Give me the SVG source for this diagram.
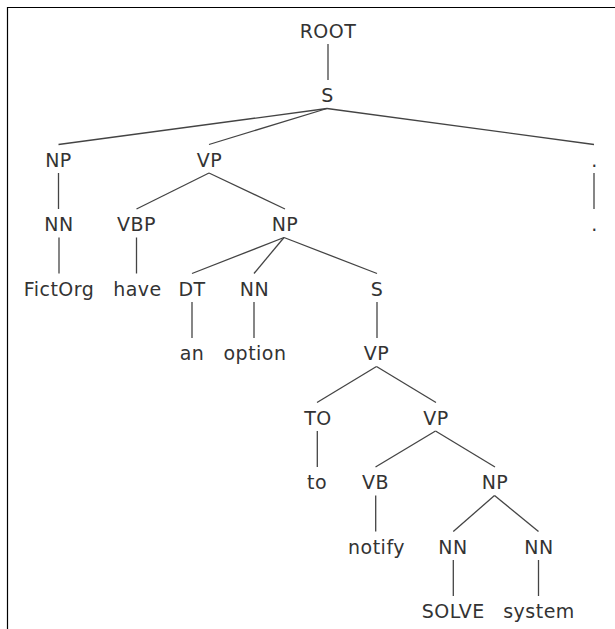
<svg xmlns="http://www.w3.org/2000/svg" width="615" height="629" viewBox="0 0 615 629">
<style>
text{font-family:"DejaVu Sans","Liberation Sans",sans-serif;font-size:19px;letter-spacing:0.5px;fill:#333;text-anchor:middle}
.e line{stroke:#444;stroke-width:1.3;stroke-linecap:butt}
</style>
<rect width="615" height="629" fill="#fff"/>
<path d="M7.5,629 V7.5 H615" fill="none" stroke="#000" stroke-width="1.2"/>
<g class="e" id="connectors">
<line x1="328" y1="44" x2="328" y2="80"/>
<line x1="327" y1="108.5" x2="58.5" y2="144.5"/>
<line x1="327" y1="108.5" x2="209" y2="144.5"/>
<line x1="327" y1="108.5" x2="594" y2="144.5"/>
<line x1="58.5" y1="173" x2="58.5" y2="209"/>
<line x1="209" y1="173" x2="136.5" y2="209"/>
<line x1="209" y1="173" x2="285" y2="209"/>
<line x1="594" y1="173" x2="594" y2="209"/>
<line x1="59" y1="237.5" x2="59" y2="273.5"/>
<line x1="136.5" y1="237.5" x2="136.5" y2="273.5"/>
<line x1="284" y1="237.5" x2="192" y2="273.5"/>
<line x1="284" y1="237.5" x2="254" y2="273.5"/>
<line x1="284" y1="237.5" x2="377" y2="273.5"/>
<line x1="192" y1="302" x2="192" y2="338"/>
<line x1="254" y1="302" x2="254" y2="338"/>
<line x1="377" y1="302" x2="377" y2="338"/>
<line x1="376.5" y1="366.5" x2="317" y2="402.5"/>
<line x1="376.5" y1="366.5" x2="436" y2="402.5"/>
<line x1="317.3" y1="431" x2="317.3" y2="467"/>
<line x1="435.5" y1="431" x2="375.5" y2="467"/>
<line x1="435.5" y1="431" x2="495" y2="467"/>
<line x1="375.7" y1="495.5" x2="375.7" y2="531.5"/>
<line x1="494.5" y1="495.5" x2="453.3" y2="531.5"/>
<line x1="494.5" y1="495.5" x2="538.5" y2="531.5"/>
<line x1="453.3" y1="560" x2="453.3" y2="596"/>
<line x1="538.5" y1="560" x2="538.5" y2="596"/>
</g>
<g id="n-root"><text x="328" y="37.5">ROOT</text></g>
<g id="n-s"><text x="327.5" y="101.5">S</text></g>
<g id="n-np1"><text x="58.5" y="166.5">NP</text></g>
<g id="n-vp1"><text x="209.5" y="166.5">VP</text></g>
<g id="n-punct"><text x="594.5" y="166.5">.</text></g>
<g id="n-nn1"><text x="59" y="231">NN</text></g>
<g id="n-vbp"><text x="136.5" y="231">VBP</text></g>
<g id="n-np2"><text x="285" y="231">NP</text></g>
<g id="n-dot"><text x="594.5" y="231">.</text></g>
<g id="n-fictorg"><text x="59" y="295.5">FictOrg</text></g>
<g id="n-have"><text x="137.5" y="295.5">have</text></g>
<g id="n-dt"><text x="192" y="295.5">DT</text></g>
<g id="n-nn2"><text x="254.5" y="295.5">NN</text></g>
<g id="n-s2"><text x="377" y="295.5">S</text></g>
<g id="n-an"><text x="192" y="360">an</text></g>
<g id="n-option"><text x="255" y="360">option</text></g>
<g id="n-vp2"><text x="376.5" y="360">VP</text></g>
<g id="n-to-tag"><text x="318" y="424.5">TO</text></g>
<g id="n-vp3"><text x="436" y="424.5">VP</text></g>
<g id="n-to"><text x="317" y="489">to</text></g>
<g id="n-vb"><text x="375.5" y="489">VB</text></g>
<g id="n-np3"><text x="495" y="489">NP</text></g>
<g id="n-notify"><text x="376.5" y="553.5">notify</text></g>
<g id="n-nn3"><text x="453" y="553.5">NN</text></g>
<g id="n-nn4"><text x="539" y="553.5">NN</text></g>
<g id="n-solve"><text x="453.3" y="618">SOLVE</text></g>
<g id="n-system"><text x="539" y="618">system</text></g>
</svg>
